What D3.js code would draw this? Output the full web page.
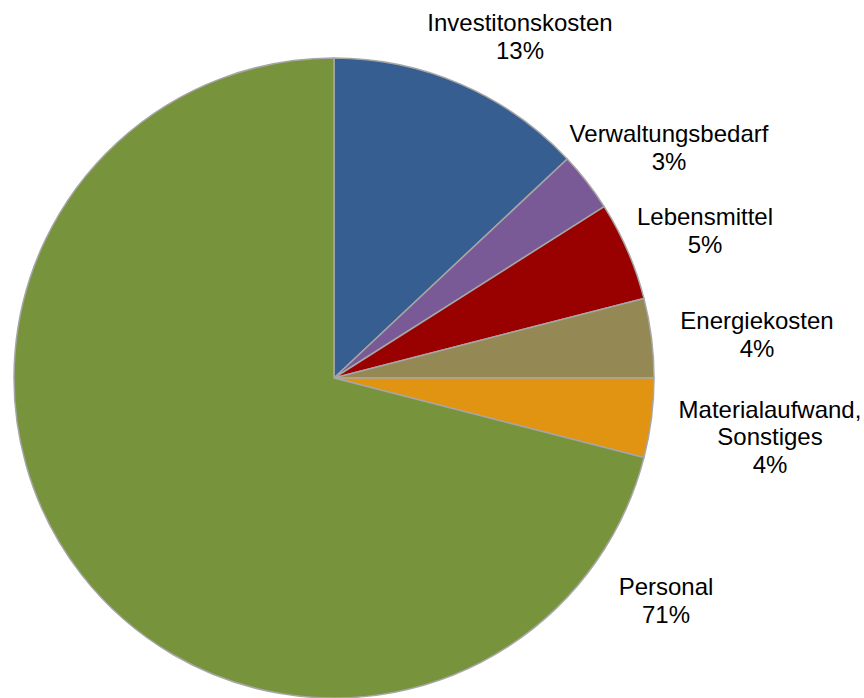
<!DOCTYPE html>
<html>
<head>
<meta charset="utf-8">
<script src="https://cdn.jsdelivr.net/npm/d3@7"></script>
<style>
  body { margin: 0; background: #fff; }
  #chart { width: 864px; height: 698px; }
</style>
</head>
<body>
<div id="chart"></div>
<script>
// -------------------- DATA --------------------
const CATEGORIES = [
  ["Investitonskosten"],
  ["Verwaltungsbedarf"],
  ["Lebensmittel"],
  ["Energiekosten"],
  ["Materialaufwand,", "Sonstiges"],
  ["Personal"]
];
const VALUES = [13, 3, 5, 4, 4, 71];
const COLORS = ["#365E91", "#7A5A96", "#990000", "#948954", "#E09412", "#77933C"];

// label centres, relative to pie centre
const LABEL_OFFSETS = [
  [186, -341], [335, -230], [371, -147], [423, -43], [436, 59], [332, 223]
];

const width = 864, height = 698;
const cx = 334, cy = 378, radius = 320;
const lineHeight = 27.5;

const svg = d3.select("#chart")
  .append("svg")
  .attr("width", width)
  .attr("height", height);

const g = svg.append("g")
  .attr("transform", `translate(${cx}, ${cy})`);

const data = VALUES.map((v, i) => ({ value: v, lines: CATEGORIES[i], color: COLORS[i], off: LABEL_OFFSETS[i] }));

const pie = d3.pie()
  .sort(null)
  .value(d => d.value);

const arc = d3.arc()
  .innerRadius(0)
  .outerRadius(radius);

const total = d3.sum(VALUES);

// -------------------- SLICES --------------------
g.selectAll("path.slice")
  .data(pie(data))
  .join("path")
  .attr("class", "slice")
  .attr("d", arc)
  .attr("fill", d => d.data.color)
  .attr("stroke", "#A6A6A6")
  .attr("stroke-width", 1.5)
  .attr("stroke-linejoin", "round");

// -------------------- LABELS --------------------
const labels = g.selectAll("text.label")
  .data(pie(data))
  .join("text")
  .attr("class", "label")
  .attr("text-anchor", "middle")
  .style("font-family", "'Liberation Sans', Arial, sans-serif")
  .style("font-size", "24px")
  .style("fill", "#000");

labels.each(function(d) {
  const lines = d.data.lines.concat([Math.round(d.data.value / total * 100) + "%"]);
  const n = lines.length;
  const [ox, oy] = d.data.off;
  const firstBaseline = oy - (n - 1) * lineHeight / 2 + 8;
  d3.select(this).selectAll("tspan")
    .data(lines)
    .join("tspan")
    .attr("x", ox)
    .attr("y", (t, i) => firstBaseline + i * lineHeight)
    .text(t => t);
});
</script>
</body>
</html>
